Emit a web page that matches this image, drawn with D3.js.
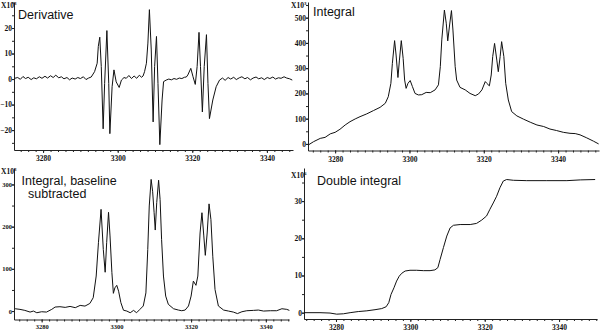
<!DOCTYPE html>
<html>
<head>
<meta charset="utf-8">
<script src="https://cdn.jsdelivr.net/npm/d3@7"></script>
<style>
  html, body { margin: 0; padding: 0; background: #fff; }
  svg { display: block; }
  .tick text { font-family: "Liberation Serif", "Times New Roman", serif; font-weight: bold; fill: #111; }
  .title { font-family: "Liberation Sans", Arial, sans-serif; fill: #111; }
  .expo { font-family: "Liberation Serif", "Times New Roman", serif; font-weight: bold; fill: #111; }
</style>
</head>
<body>
<svg id="chart" width="600" height="332"></svg>
<script>
// field axis (gauss), shared by all four panels
const fieldTicks = [3280, 3300, 3320, 3340];
const derivTicks = [-20, -10, 0, 10, 20];
const integralTicks = [0, 100, 200, 300, 400, 500];
const baselineTicks = [0, 100, 200, 300];
const doubleTicks = [0, 10, 20, 30];

// [field, value]
const derivative = [
  [3272.4, 0.3], [3273.2, 0.6], [3273.9, -0.1], [3274.6, 1.0], [3275.3, 0.2], [3276.0, 0.7],
  [3276.8, -0.2], [3277.5, 0.5], [3278.2, 0.1], [3279.0, 0.9], [3279.7, 0.3], [3280.5, 1.1],
  [3281.2, 0.4], [3282.0, 1.3], [3282.7, 0.6], [3283.4, 1.5], [3284.2, 0.5], [3284.9, 0.9],
  [3285.6, 0.1], [3286.4, 0.6], [3287.1, -0.3], [3287.8, 0.4], [3288.6, 0.0], [3289.3, 0.6],
  [3290.0, 0.2], [3290.8, 0.9], [3291.5, -0.2], [3292.2, 0.4], [3292.9, 0.8], [3293.8, 2.9],
  [3294.5, 6.2], [3294.8, 12.8], [3295.2, 16.4], [3295.6, 4.9], [3296.1, -19.5], [3296.5, -1.7],
  [3297.1, 19.0], [3297.6, -1.7], [3297.9, -21.4], [3298.5, -3.0], [3299.0, 3.6], [3299.6, -1.1],
  [3300.4, -3.3], [3301.0, -0.4], [3301.7, 0.6], [3302.3, 0.3], [3303.0, 1.4], [3303.7, 0.2],
  [3304.4, 1.2], [3305.1, 0.3], [3305.8, 1.5], [3306.4, 0.7], [3306.8, 1.2], [3307.2, 2.9],
  [3307.7, 6.2], [3308.1, 14.1], [3308.5, 27.2], [3309.0, 11.4], [3309.5, -16.8], [3309.9, 4.9],
  [3310.4, 16.7], [3310.8, -1.7], [3311.3, -25.7], [3311.9, -8.2], [3312.3, -1.0], [3313.0, -0.4],
  [3313.7, 0.0], [3314.4, -0.3], [3315.1, 0.2], [3315.8, -0.1], [3316.5, 0.4], [3317.2, 0.2],
  [3317.9, 0.7], [3318.4, 0.8], [3318.8, 1.6], [3319.6, 4.2], [3320.2, 0.9], [3320.8, -2.1],
  [3321.3, 4.9], [3321.8, 18.3], [3322.2, 4.9], [3322.7, -12.9], [3323.2, 4.9], [3323.8, 17.4],
  [3324.2, -1.7], [3324.6, -15.5], [3325.5, -8.2], [3326.4, -3.0], [3327.3, -0.4], [3328.1, 0.4],
  [3328.8, -0.5], [3329.6, 0.6], [3330.3, 0.0], [3331.1, 0.7], [3331.8, -0.2], [3332.6, 0.5],
  [3333.3, 0.9], [3334.1, 0.1], [3334.8, 0.6], [3335.6, -0.3], [3336.3, 0.4], [3337.1, 0.8],
  [3337.8, 0.1], [3338.6, 0.5], [3339.3, -0.2], [3340.1, 0.6], [3340.8, 0.2], [3341.6, 0.8],
  [3342.3, 0.0], [3343.1, 0.5], [3343.8, 0.3], [3344.6, 0.9], [3345.3, 0.4], [3346.1, 0.1],
  [3346.8, -0.4],
];

const integral = [
  [3272.8, -4], [3274.2, 9], [3276.0, 22], [3277.3, 26], [3278.7, 40], [3280.0, 46],
  [3281.3, 58], [3282.7, 75], [3284.0, 88], [3285.4, 99], [3286.7, 108], [3288.5, 119],
  [3290.3, 132], [3292.1, 145], [3293.5, 161], [3294.3, 187], [3295.0, 240], [3295.4, 319],
  [3296.0, 409], [3296.4, 352], [3296.9, 263], [3297.3, 332], [3297.8, 409], [3298.3, 339],
  [3298.7, 253], [3299.1, 220], [3299.6, 240], [3300.2, 251], [3300.8, 227], [3301.5, 200],
  [3302.4, 194], [3303.3, 195], [3304.5, 204], [3305.6, 203], [3306.9, 214], [3307.8, 234],
  [3308.3, 306], [3308.7, 412], [3309.4, 530], [3309.9, 478], [3310.3, 408], [3310.8, 471],
  [3311.3, 528], [3311.7, 451], [3312.3, 306], [3312.7, 253], [3313.6, 224], [3315.0, 214],
  [3316.3, 200], [3317.7, 191], [3318.6, 198], [3319.5, 214], [3320.4, 247], [3320.8, 240],
  [3321.5, 230], [3322.0, 273], [3322.4, 346], [3322.9, 398], [3323.5, 332], [3323.9, 286],
  [3324.4, 346], [3324.8, 405], [3325.4, 346], [3325.9, 240], [3326.6, 174], [3327.5, 128],
  [3328.9, 111], [3330.7, 98], [3332.5, 86], [3334.3, 75], [3336.1, 69], [3337.8, 59],
  [3339.6, 53], [3341.4, 46], [3343.2, 42], [3344.6, 41], [3345.9, 36], [3347.7, 24],
  [3349.5, 11], [3350.9, 0],
];

const baselineSubtracted = [
  [3272.9, 5.5], [3274.2, 4], [3275.5, 1.6], [3276.9, -2.4], [3277.8, 0], [3278.7, -4],
  [3280.0, -1.6], [3281.3, -2.4], [3282.7, 4], [3283.6, 9.5], [3284.9, 10.3], [3286.3, 8.7],
  [3287.6, 11], [3289.0, 8], [3290.3, 13.4], [3291.6, 11.8], [3292.9, 18], [3293.8, 31.6],
  [3294.6, 83], [3295.2, 162], [3295.9, 241], [3296.5, 146], [3297.0, 92], [3297.4, 162],
  [3297.9, 234], [3298.3, 178], [3298.8, 91], [3299.2, 42], [3299.6, 55], [3300.1, 61],
  [3300.6, 47], [3301.2, 20], [3301.9, 2], [3302.8, 0], [3303.7, -4], [3304.6, 1.6],
  [3305.4, -4], [3306.3, 4], [3307.2, 12], [3307.9, 43], [3308.4, 146], [3308.8, 249],
  [3309.3, 312], [3309.7, 284], [3310.1, 233], [3310.4, 192], [3310.8, 257], [3311.3, 310],
  [3311.7, 264], [3312.1, 170], [3312.6, 83], [3313.2, 35.5], [3313.9, 16], [3315.3, 5.5],
  [3316.6, 2.4], [3317.5, 0.8], [3318.4, 2.4], [3319.3, 12], [3320.0, 35.5], [3320.6, 71],
  [3321.3, 61], [3321.8, 83], [3322.4, 185], [3322.9, 233], [3323.4, 178], [3323.8, 132],
  [3324.3, 185], [3324.8, 254], [3325.3, 217], [3325.8, 130], [3326.4, 51], [3327.3, 12],
  [3328.7, 2.4], [3330.0, 0], [3331.3, -2.4], [3332.4, -6], [3333.6, -1.6], [3334.9, 0.8],
  [3336.7, 1.6], [3338.0, 2.4], [3339.4, 0], [3341.2, 0.8], [3342.9, 0.8], [3344.3, 5.5],
  [3345.6, 4], [3346.3, 1.6],
];

const doubleIntegral = [
  [3271.4, 0], [3275.7, 0], [3278.4, -0.1], [3280.2, -0.4], [3282.0, -0.3], [3283.8, 0],
  [3286.0, 0.3], [3288.3, 0.5], [3290.5, 0.8], [3292.3, 1.1], [3293.5, 1.6], [3294.2, 2.7],
  [3294.8, 4.9], [3295.6, 6.7], [3296.3, 8.5], [3297.0, 9.8], [3297.7, 10.6], [3298.6, 11.2],
  [3299.9, 11.4], [3301.7, 11.4], [3303.5, 11.3], [3305.3, 11.3], [3306.6, 11.5], [3307.4, 12.1],
  [3308.0, 14.3], [3308.9, 17.5], [3309.8, 20.6], [3310.7, 22.8], [3311.6, 23.5], [3313.4, 23.7],
  [3316.1, 23.7], [3317.8, 24.0], [3319.2, 24.9], [3320.5, 26.0], [3321.4, 27.8], [3322.3, 29.5],
  [3323.2, 31.3], [3324.1, 33.6], [3325.0, 35.4], [3325.9, 35.8], [3327.7, 35.6], [3331.3, 35.5],
  [3336.7, 35.5], [3342.1, 35.5], [3345.7, 35.7], [3349.7, 35.8],
];

const svg = d3.select('#chart');
const fmt = d3.format('d');

/**
 * Draw one spectrum panel
 * @param {object} p panel layout and data
 */
function panel(p) {
  const g = svg.append('g');
  const x = d3.scaleLinear().domain(p.xDom).range([p.left, p.right]);
  const y = d3.scaleLinear().domain(p.yDom).range([p.bottom, p.top]);

  // minor x ticks every 2 G
  const minor = d3.range(Math.ceil(p.xDom[0] / 2) * 2, p.xDom[1], 2);
  g.append('g')
    .attr('transform', `translate(0,${p.bottom})`)
    .call(d3.axisBottom(x).tickValues(minor).tickSize(2).tickSizeOuter(0).tickFormat(''))
    .call((a) => a.select('.domain').remove())
    .selectAll('line').attr('stroke', '#222');

  g.append('g')
    .attr('transform', `translate(0,${p.bottom})`)
    .call(d3.axisBottom(x).tickValues(fieldTicks).tickSize(3).tickSizeOuter(0)
      .tickPadding(p.xPad).tickFormat(fmt))
    .call((a) => a.select('.domain').attr('stroke', '#222'))
    .call((a) => a.selectAll('line').attr('stroke', '#222'))
    .call((a) => a.selectAll('text').style('font-size', `${p.fs}px`));

  // minor y ticks at half steps
  const step = p.yTicks[1] - p.yTicks[0];
  const yMinor = d3.range(Math.ceil(p.yDom[0] / (step / 2)) * (step / 2), p.yDom[1], step / 2);
  g.append('g')
    .attr('transform', `translate(${p.left},0)`)
    .call(d3.axisLeft(y).tickValues(yMinor).tickSize(2).tickSizeOuter(0).tickFormat(''))
    .call((a) => a.select('.domain').remove())
    .selectAll('line').attr('stroke', '#222');

  g.append('g')
    .attr('transform', `translate(${p.left},0)`)
    .call(d3.axisLeft(y).tickValues(p.yTicks).tickSize(2).tickSizeOuter(0)
      .tickPadding(0).tickFormat(fmt))
    .call((a) => a.select('.domain').attr('stroke', '#222'))
    .call((a) => a.selectAll('line').attr('stroke', '#222'))
    .call((a) => a.selectAll('text').style('font-size', `${p.fs}px`));

  // exponent label, X10^n
  const ex = g.append('text').attr('class', 'expo')
    .attr('x', p.expX).attr('y', p.expY)
    .style('font-size', '7.5px')
    .text('X10');
  ex.append('tspan').attr('dy', -3).style('font-size', '5px').text(p.exp);

  g.append('path')
    .datum(p.data)
    .attr('fill', 'none')
    .attr('stroke', '#111')
    .attr('stroke-width', 1)
    .attr('stroke-linejoin', 'round')
    .attr('d', d3.line().x((d) => x(d[0])).y((d) => y(d[1])));

  p.title.forEach((t, i) => {
    g.append('text').attr('class', 'title')
      .attr('x', p.titleX[i]).attr('y', p.titleY + i * 13)
      .style('font-size', '12.5px')
      .text(t);
  });
}

panel({
  data: derivative, left: 14, right: 293, top: 2, bottom: 150,
  xDom: [3272.2, 3347], yDom: [-27.8, 30.2], yTicks: derivTicks,
  fs: 7.5, xPad: 3, exp: '3', expX: 1, expY: 8,
  title: ['Derivative'], titleX: [18], titleY: 19,
});
panel({
  data: integral, left: 308, right: 599, top: 2, bottom: 150.5,
  xDom: [3272.7, 3351], yDom: [-26, 562], yTicks: integralTicks,
  fs: 7.5, xPad: 3, exp: '3', expX: 291, expY: 7.5,
  title: ['Integral'], titleX: [313], titleY: 16,
});
panel({
  data: baselineSubtracted, left: 14, right: 289, top: 168, bottom: 319.5,
  xDom: [3272.6, 3346.2], yDom: [-20, 339], yTicks: baselineTicks,
  fs: 6.5, xPad: 2, exp: '3', expX: 1, expY: 173.5,
  title: ['Integral, baseline', 'subtracted'], titleX: [21.5, 28], titleY: 185,
});
panel({
  data: doubleIntegral, left: 304, right: 597, top: 168, bottom: 319,
  xDom: [3271.4, 3350.2], yDom: [-1.7, 38.9], yTicks: doubleTicks,
  fs: 7.5, xPad: 3, exp: '6', expX: 291, expY: 177.5,
  title: ['Double integral'], titleX: [317], titleY: 185,
});
</script>
</body>
</html>
